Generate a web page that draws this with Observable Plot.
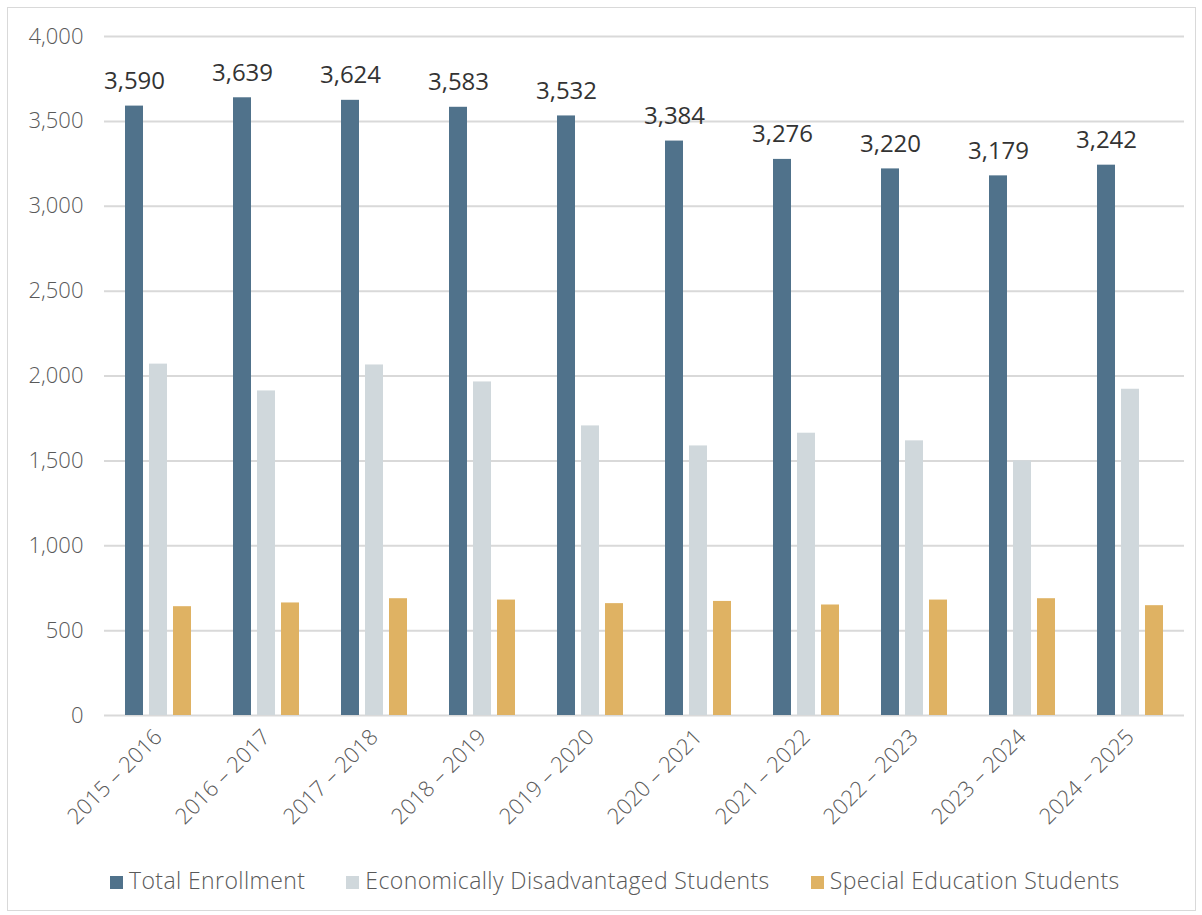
<!DOCTYPE html>
<html>
<head>
<meta charset="utf-8">
<script src="https://cdn.jsdelivr.net/npm/d3@7"></script>
<script src="https://cdn.jsdelivr.net/npm/@observablehq/plot@0.6"></script>
<style>
  html, body { margin: 0; padding: 0; background: #fff; }
  body { width: 1202px; height: 915px; position: relative; overflow: hidden; font-family: "Open Sans", Lato, sans-serif; }
  #frame { position: absolute; left: 7px; top: 7px; width: 1189px; height: 904px; border: 1px solid #d9d9d9; box-sizing: border-box; }
  #chart { position: absolute; left: 0; top: 0; }
  #chart svg g[aria-label="y-axis tick label"] text { font-weight: 300; font-size: 22px; }
  #chart svg g[aria-label="fx-axis tick label"] text { font-weight: 300; font-size: 22px; }
  #legend { position: absolute; left: 110px; top: 864px; display: flex; gap: 41px; font-size: 23px; letter-spacing: 0.4px; font-weight: 300; color: #595959; }
  #legend .item { display: flex; align-items: center; }
  #legend .sw { width: 13px; height: 13px; margin-right: 6px; margin-top: 4px; }
</style>
</head>
<body>
<div id="frame"></div>
<div id="chart"></div>
<div id="legend"></div>
<script>
const years = ["2015 – 2016","2016 – 2017","2017 – 2018","2018 – 2019","2019 – 2020","2020 – 2021","2021 – 2022","2022 – 2023","2023 – 2024","2024 – 2025"];
const series = ["Total Enrollment","Economically Disadvantaged Students","Special Education Students"];
const totalEnrollment = [3590,3639,3624,3583,3532,3384,3276,3220,3179,3242];
const econDisadvantaged = [2070,1912,2065,1965,1706,1588,1663,1618,1500,1922];
const specialEducation = [641,663,688,680,659,672,651,680,688,647];
const colors = ["#50728b","#d0d8dc","#dfb263"];
const yTicks = [0,500,1000,1500,2000,2500,3000,3500,4000];

const valuesBySeries = [totalEnrollment, econDisadvantaged, specialEducation];
const data = [];
years.forEach((yr, i) => {
  series.forEach((s, j) => data.push({year: yr, series: s, value: valuesBySeries[j][i]}));
});
const totals = data.filter(d => d.series === series[0]);

const chart = Plot.plot({
  width: 1202,
  height: 850,
  marginLeft: 103,
  marginRight: 17,
  marginTop: 36,
  marginBottom: 135,
  style: {fontFamily: "'Open Sans', Lato, sans-serif", fontSize: "21px", color: "#595959", background: "transparent", overflow: "visible"},
  fx: {domain: years, padding: 0, label: null, tickRotate: -45, tickSize: 0, tickPadding: 18},
  x: {domain: series, paddingInner: 0.25, paddingOuter: 0.875, axis: null},
  y: {domain: [0, 4000], ticks: yTicks, tickFormat: d3.format(","), tickSize: 0, tickPadding: 21, label: null},
  color: {domain: series, range: colors},
  marks: [
    Plot.ruleY(yTicks, {stroke: "#d9d9d9", strokeWidth: 2}),
    Plot.barY(data, {fx: "year", x: "series", y: "value", fill: "series"}),
    Plot.text(totals, {fx: "year", x: "series", y: "value", text: d => d3.format(",")(d.value), lineAnchor: "bottom", dy: -17, fontSize: 24, fill: "#333"})
  ]
});
document.getElementById("chart").appendChild(chart);

const legend = document.getElementById("legend");
series.forEach((s, j) => {
  const it = document.createElement("div");
  it.className = "item";
  it.innerHTML = `<span class="sw" style="background:${colors[j]}"></span><span>${s}</span>`;
  legend.appendChild(it);
});
</script>
</body>
</html>
